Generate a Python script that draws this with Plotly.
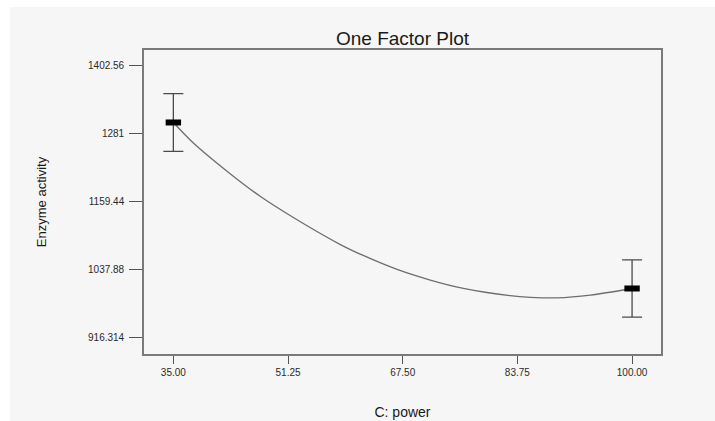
import plotly.graph_objects as go

# Design points (factor levels) and predicted means with error bars
point_x = [35.0, 100.0]
point_y = [1301.3, 1003.8]
point_err = [51.7, 51.4]

# Model prediction curve
curve_x = [35.0, 37.8, 42.6, 47.3, 52.0, 58.6, 61.9, 66.7, 71.4, 76.1, 82.7, 85.6, 89.4, 94.1, 100.0]
curve_y = [1301.3, 1265.0, 1214.0, 1169.0, 1131.0, 1083.0, 1063.0, 1038.0, 1019.0, 1004.0, 991.0, 988.0, 987.0, 992.0, 1003.8]

x_tickvals = [35.0, 51.25, 67.5, 83.75, 100.0]
x_ticktext = ["35.00", "51.25", "67.50", "83.75", "100.00"]
y_tickvals = [916.314, 1037.88, 1159.44, 1281.0, 1402.56]
y_ticktext = ["916.314", "1037.88", "1159.44", "1281", "1402.56"]

W, H = 715, 421
ml, mr, mt, mb = 144, 54, 50, 67
pw, ph = W - ml - mr, H - mt - mb

fig = go.Figure()

fig.add_trace(go.Scatter(
    x=curve_x, y=curve_y, mode="lines",
    line=dict(color="#6e6e6e", width=1.3, shape="spline", smoothing=0.8),
    hoverinfo="skip", showlegend=False,
))

fig.add_trace(go.Scatter(
    x=point_x, y=point_y, mode="markers",
    marker=dict(symbol="line-ew", size=11, color="black",
                line=dict(color="black", width=6)),
    error_y=dict(type="data", array=point_err, visible=True,
                 color="#4a4a4a", thickness=1.3, width=10),
    showlegend=False,
))

# light grey page area with white strips at top and left
fig.add_shape(type="rect", xref="paper", yref="paper",
              x0=(10 - ml) / pw, x1=(W - ml) / pw,
              y0=(mt + ph - H) / ph, y1=(mt + ph - 7) / ph,
              fillcolor="#f6f6f6", line=dict(width=0), layer="below")

font_family = "Liberation Sans, Arial, sans-serif"

fig.update_layout(
    width=W, height=H, autosize=False,
    margin=dict(l=ml, r=mr, t=mt, b=mb),
    paper_bgcolor="white",
    plot_bgcolor="#f6f6f6",
    font=dict(family=font_family, color="#2a2a2a", size=10),
    title=dict(text="One Factor Plot", x=(ml + pw / 2) / W, xanchor="center",
               xref="container", yref="container", y=1 - 38.5 / H, yanchor="middle",
               font=dict(size=19, color="#1a1a1a", family=font_family)),
    xaxis=dict(
        range=[30.84, 104.1], tickvals=x_tickvals, ticktext=x_ticktext,
        showgrid=False, zeroline=False, showline=True, mirror=True,
        linecolor="#7a7a7a", linewidth=1.6,
        ticks="outside", ticklen=8, tickwidth=1.2, tickcolor="#555555",
        tickfont=dict(size=10, color="#2a2a2a"),
        title=dict(text="C: power", standoff=30,
                   font=dict(size=14, color="#1a1a1a")),
        automargin=False,
    ),
    yaxis=dict(
        range=[886.4, 1431.2], tickvals=y_tickvals, ticktext=y_ticktext,
        showgrid=False, zeroline=False, showline=True, mirror=True,
        linecolor="#7a7a7a", linewidth=1.6,
        ticks="outside", ticklen=13, tickwidth=1.2, tickcolor="#555555",
        tickfont=dict(size=10, color="#2a2a2a"), ticklabelstandoff=3,
        title=dict(text="Enzyme activity", standoff=38,
                   font=dict(size=13, color="#1a1a1a")),
        automargin=False,
    ),
)

fig.write_html("out.html")
